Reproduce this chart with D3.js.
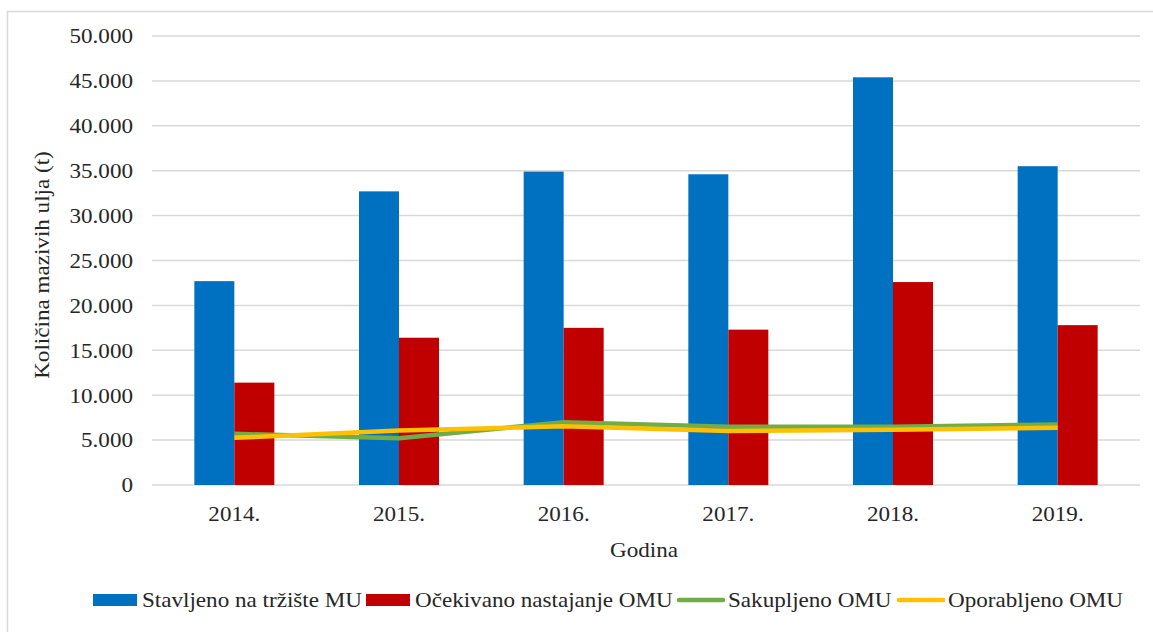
<!DOCTYPE html>
<html>
<head>
<meta charset="utf-8">
<script src="https://cdn.jsdelivr.net/npm/d3@7"></script>
<style>
  body { margin: 0; background: #fff; }
</style>
</head>
<body>
<svg id="chart" width="1153" height="632"></svg>
<script>
// podaci ocitani s grafa
const godine = ["2014.", "2015.", "2016.", "2017.", "2018.", "2019."];
const stavljeno = [22700, 32700, 34900, 34600, 45400, 35500];
const ocekivano = [11400, 16400, 17500, 17300, 22600, 17800];
const sakupljeno = [5700, 5200, 7000, 6500, 6500, 6750];
const oporabljeno = [5250, 6080, 6530, 6010, 6150, 6380];
const yTicks = [0, 5000, 10000, 15000, 20000, 25000, 30000, 35000, 40000, 45000, 50000];

const svg = d3.select("#chart");
const txtColor = "#262626";
const sx = 1.1; // tekst u originalu je malo razvucen

// pomocna za tekst
function label(g, tx, ty, str, anchor, rot) {
  return g.append("text")
    .attr("transform", `translate(${tx},${ty})` + (rot ? ` rotate(${rot})` : "") + ` scale(${sx},1)`)
    .attr("text-anchor", anchor || "start")
    .attr("dy", "0.35em")
    .attr("fill", txtColor)
    .style("font-family", "'Liberation Serif', 'Times New Roman', serif")
    .style("font-size", "21px")
    .text(str);
}

// okvir grafa
svg.append("rect")
  .attr("x", 7.5).attr("y", 11.5)
  .attr("width", 1160).attr("height", 640)
  .attr("fill", "none").attr("stroke", "#d9d9d9").attr("stroke-width", 1.5);

const plotL = 152, plotR = 1140, plotT = 36, plotB = 485;

const x = d3.scaleBand().domain(godine).range([plotL, plotR]);
const y = d3.scaleLinear().domain([0, 50000]).range([plotB, plotT]);

const fmt = v => v === 0 ? "0" : d3.format(",")(v).replace(/,/g, ".");

// mreza
svg.append("g")
  .selectAll("line")
  .data(yTicks)
  .join("line")
  .attr("x1", plotL).attr("x2", plotR)
  .attr("y1", d => y(d)).attr("y2", d => y(d))
  .attr("stroke", "#d9d9d9").attr("stroke-width", 1.5);

// oznake osi y
const gy = svg.append("g");
yTicks.forEach(t => label(gy, 133, y(t), fmt(t), "end"));

// stupci
const barW = 40;
const serije = [
  { vals: stavljeno, color: "#0070c0", off: -barW },
  { vals: ocekivano, color: "#c00000", off: 0 }
];
serije.forEach(s => {
  svg.append("g")
    .selectAll("rect")
    .data(godine)
    .join("rect")
    .attr("x", (d, i) => x(d) + x.bandwidth() / 2 + s.off)
    .attr("y", (d, i) => y(s.vals[i]))
    .attr("width", barW)
    .attr("height", (d, i) => plotB - y(s.vals[i]))
    .attr("fill", s.color);
});

// linije
const line = d3.line()
  .x((d, i) => x(godine[i]) + x.bandwidth() / 2)
  .y(d => y(d));

svg.append("path").datum(sakupljeno)
  .attr("d", line).attr("fill", "none")
  .attr("stroke", "#70ad47").attr("stroke-width", 4.5).attr("stroke-linejoin", "round");
svg.append("path").datum(oporabljeno)
  .attr("d", line).attr("fill", "none")
  .attr("stroke", "#ffc000").attr("stroke-width", 4.5).attr("stroke-linejoin", "round");

// oznake osi x
const gx = svg.append("g");
godine.forEach(g => label(gx, x(g) + x.bandwidth() / 2, 514, g, "middle"));

// naslovi osi
label(svg, 644, 550, "Godina", "middle");
label(svg, 42, 265, "Količina mazivih ulja (t)", "middle", -90);

// legenda
const legenda = [
  { name: "Stavljeno na tržište MU", color: "#0070c0", type: "rect", x: 93 },
  { name: "Očekivano nastajanje OMU", color: "#c00000", type: "rect", x: 366 },
  { name: "Sakupljeno OMU", color: "#70ad47", type: "line", x: 679 },
  { name: "Oporabljeno OMU", color: "#ffc000", type: "line", x: 899 }
];
const lg = svg.append("g");
legenda.forEach(l => {
  if (l.type === "rect") {
    lg.append("rect").attr("x", l.x).attr("y", 594).attr("width", 44).attr("height", 12).attr("fill", l.color);
  } else {
    lg.append("line").attr("x1", l.x).attr("x2", l.x + 44).attr("y1", 600).attr("y2", 600)
      .attr("stroke", l.color).attr("stroke-width", 4.5).attr("stroke-linecap", "round");
  }
  label(lg, l.x + 49, 600, l.name, "start");
});
</script>
</body>
</html>
